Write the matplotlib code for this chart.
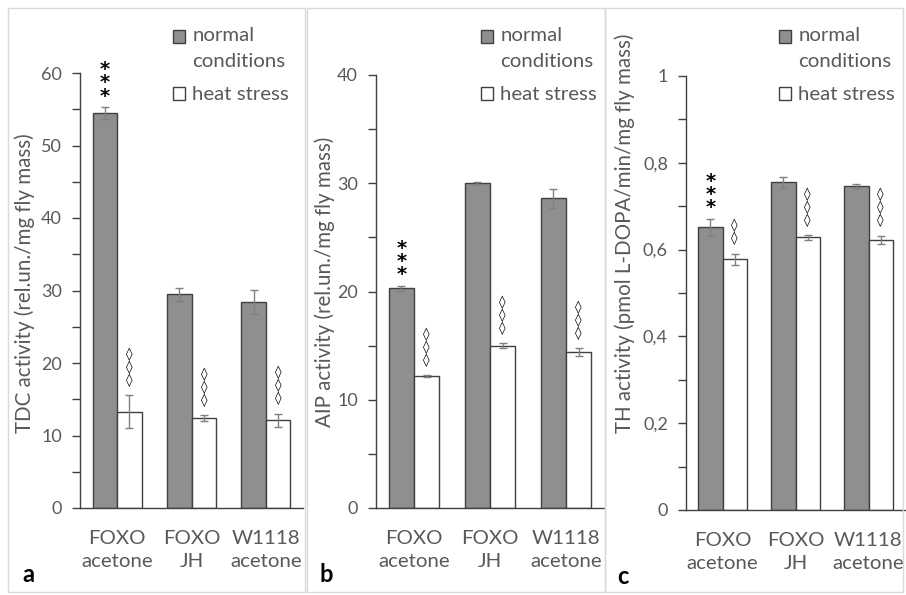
import matplotlib
matplotlib.use("Agg")
import matplotlib.pyplot as plt
from matplotlib.patches import Rectangle
from matplotlib.legend_handler import HandlerPatch
from matplotlib.ticker import MultipleLocator, FuncFormatter
import numpy as np

plt.rcParams["font.family"] = ["Lato", "DejaVu Sans"]

groups = ["FOXO\nacetone", "FOXO\nJH", "W1118\nacetone"]

# panel a: TDC
tdc_normal = [54.5, 29.5, 28.4]
tdc_normal_err = [0.8, 0.9, 1.7]
tdc_heat = [13.3, 12.4, 12.1]
tdc_heat_err = [2.3, 0.4, 0.9]

# panel b: AIP
aip_normal = [20.3, 30.0, 28.6]
aip_normal_err = [0.25, 0.15, 0.85]
aip_heat = [12.2, 15.0, 14.4]
aip_heat_err = [0.1, 0.2, 0.35]

# panel c: TH
th_normal = [0.651, 0.755, 0.747]
th_normal_err = [0.02, 0.013, 0.004]
th_heat = [0.578, 0.628, 0.622]
th_heat_err = [0.013, 0.005, 0.01]

# significance marks (normal bars, heat bars)
tdc_marks = (["*\n*\n*", "", ""], ["◊\n◊\n◊", "◊\n◊\n◊", "◊\n◊\n◊"])
aip_marks = (["*\n*\n*", "", ""], ["◊\n◊\n◊", "◊\n◊\n◊", "◊\n◊\n◊"])
th_marks = (["*\n*\n*", "", ""], ["◊\n◊", "◊\n◊\n◊", "◊\n◊\n◊"])

TXT = "#595959"
EDGE = "#404040"
GREY = "#8f8f8f"

panels = [
    dict(pos=[80, 508, 223, 435], normal=tdc_normal, nerr=tdc_normal_err,
         heat=tdc_heat, herr=tdc_heat_err, marks=tdc_marks, ymax=60, major=10,
         minor=5, ylabel="TDC activity (rel.un./mg fly mass)",
         lab=(35, 433), letter=(28, 575), box=(8, 305), leg=(173, 27), name="a"),
    dict(pos=[376, 508, 228, 433], normal=aip_normal, nerr=aip_normal_err,
         heat=aip_heat, herr=aip_heat_err, marks=aip_marks, ymax=40, major=10,
         minor=5, ylabel="AIP activity (rel.un./mg fly mass)",
         lab=(335, 427), letter=(326, 574), box=(307, 605), leg=(481, 27), name="b"),
    dict(pos=[686, 510, 219, 434], normal=th_normal, nerr=th_normal_err,
         heat=th_heat, herr=th_heat_err, marks=th_marks, ymax=1, major=0.2,
         minor=0.1, ylabel="TH activity (pmol L-DOPA/min/mg fly mass)",
         lab=(635, 433), letter=(623, 577), box=(605, 903), leg=(779, 27), name="c"),
]


def comma_fmt(v, _pos):
    return "{:g}".format(round(v, 6)).replace(".", ",")


def raised_square(legend, orig_handle, xdescent, ydescent, width, height, fontsize):
    # put the swatch next to the first line of a two-line label
    return Rectangle((-xdescent, -ydescent + 0.6 * fontsize), width, height)


def copy_bar_style(legend_handle, orig_handle):
    legend_handle.update_from(orig_handle.patches[0])


W, H = 906, 595
fig = plt.figure(figsize=(W / 100, H / 100), dpi=100)

x = np.arange(len(groups))
bw = 0.33

for p in panels:
    x0, x1 = p["box"]
    fig.add_artist(Rectangle((x0 / W, 3 / H), (x1 - x0) / W, (H - 11) / H,
                             transform=fig.transFigure, fill=False,
                             edgecolor="#d9d9d9", linewidth=1))

    left, bottom, width, height = p["pos"]
    ax = fig.add_axes([left / W, 1 - bottom / H, width / W, height / H])

    b_norm = ax.bar(x - bw / 2, p["normal"], bw, color=GREY, edgecolor=EDGE,
                    linewidth=1, zorder=2)
    b_heat = ax.bar(x + bw / 2, p["heat"], bw, color="white", edgecolor=EDGE,
                    linewidth=1, zorder=2)
    ax.errorbar(x - bw / 2, p["normal"], yerr=p["nerr"], fmt="none",
                ecolor="#808080", elinewidth=1, capsize=3, zorder=3)
    ax.errorbar(x + bw / 2, p["heat"], yerr=p["herr"], fmt="none",
                ecolor="#808080", elinewidth=1, capsize=3, zorder=3)

    nmarks, hmarks = p["marks"]
    for i in range(len(groups)):
        if nmarks[i]:
            ax.annotate(nmarks[i], xy=(x[i] - bw / 2, p["normal"][i] + p["nerr"][i]),
                        xytext=(0, 1), textcoords="offset points", ha="center",
                        va="bottom", fontsize=14, fontweight="bold", color="black",
                        linespacing=0.62, family=["DejaVu Sans"])
        if hmarks[i]:
            ax.annotate(hmarks[i], xy=(x[i] + bw / 2, p["heat"][i] + p["herr"][i]),
                        xytext=(0, 6), textcoords="offset points", ha="center",
                        va="bottom", fontsize=9.5, fontweight="bold", color="black",
                        linespacing=0.95, family=["DejaVu Sans"])

    ax.set_xlim(-0.5, len(groups) - 0.5)
    ax.set_ylim(0, p["ymax"])
    ax.yaxis.set_major_locator(MultipleLocator(p["major"]))
    ax.yaxis.set_minor_locator(MultipleLocator(p["minor"]))
    ax.yaxis.set_major_formatter(FuncFormatter(comma_fmt))
    ax.tick_params(axis="y", which="both", direction="out", length=6,
                   width=1, color=EDGE, labelsize=13, labelcolor=TXT, pad=7)
    ax.set_xticks(x)
    ax.set_xticklabels(groups, linespacing=1.4)
    ax.tick_params(axis="x", length=0, labelsize=14.7, labelcolor=TXT, pad=16)
    for s in ("top", "right"):
        ax.spines[s].set_visible(False)
    for s in ("left", "bottom"):
        ax.spines[s].set_color(EDGE)
        ax.spines[s].set_linewidth(1)

    ax.set_ylabel(p["ylabel"], fontsize=14.8, color=TXT, loc="bottom")
    lx, ly = p["lab"]
    ax.yaxis.set_label_coords((lx - left) / width, (bottom - ly) / height)

    leg = ax.legend([b_norm, b_heat], ["normal\nconditions", "heat stress"],
                    handler_map={b_norm: HandlerPatch(patch_func=raised_square,
                                                      update_func=copy_bar_style)},
                    loc="upper left",
                    bbox_to_anchor=(p["leg"][0] / W, 1 - p["leg"][1] / H),
                    bbox_transform=fig.transFigure, frameon=False, fontsize=14.7,
                    labelcolor=TXT, handlelength=0.6, handleheight=0.6,
                    handletextpad=0.35, borderpad=0, borderaxespad=0,
                    labelspacing=0.8)
    for t in leg.get_texts():
        t.set_linespacing(1.65)

    fig.text(p["letter"][0] / W, 1 - p["letter"][1] / H, p["name"], fontsize=17,
             fontweight="bold", ha="center", va="center", color="black")

fig.savefig("out.png", dpi=100)
